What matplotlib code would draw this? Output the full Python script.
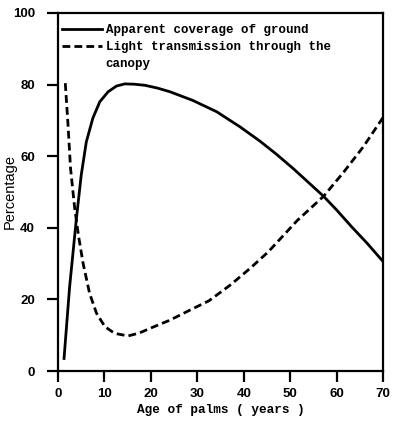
import matplotlib
matplotlib.use("Agg")
import matplotlib.pyplot as plt
from matplotlib.lines import Line2D

# Data
age_cov = [1.3, 2.5, 3.95, 5.0, 6.1, 7.5, 9.0, 10.8, 12.6, 14.4, 16.5, 18.75, 21.5, 24.1,
           29.0, 34.2, 39.2, 43.5, 47.0, 50.7, 54.0, 57.2, 60.0, 63.3, 66.5, 70.0]
coverage = [3.5, 23.5, 42.4, 54.7, 64.0, 70.6, 75.2, 78.0, 79.6, 80.2, 80.1, 79.8, 79.0, 78.0,
            75.6, 72.4, 68.2, 64.2, 60.6, 56.5, 52.6, 48.8, 45.0, 40.2, 35.8, 30.6]

age_light = [1.57, 2.16, 2.7, 3.6, 4.45, 5.4, 6.8, 8.3, 10.1, 12.2, 15.1, 17.5, 19.8, 24.1,
             28.4, 32.5, 37.1, 41.4, 45.3, 51.5, 57.2, 61.5, 65.8, 70.0]
light = [80.4, 68.7, 56.6, 45.4, 37.5, 30.1, 21.7, 16.1, 12.4, 10.5, 9.8, 10.6, 11.9, 14.2,
         17.0, 19.6, 24.0, 28.7, 33.3, 42.0, 48.8, 55.5, 62.7, 70.8]

xticks = [0, 10, 20, 30, 40, 50, 60, 70]
yticks = [0, 20, 40, 60, 80, 100]
labels = ["Apparent coverage of ground", "Light transmission through the", "canopy"]

mono = "Liberation Mono"
sans = "Liberation Sans"

fig = plt.figure(figsize=(4.0, 4.3), dpi=100)
ax = fig.add_axes([0.145, 0.1372, 0.8125, 0.8326])

l1, = ax.plot(age_cov, coverage, color="black", lw=2.0, solid_joinstyle="round")
l2, = ax.plot(age_light, light, color="black", lw=2.0, dashes=(2.8, 1.5))
blank = Line2D([], [], color="none")

ax.set_xlim(0, 70)
ax.set_ylim(0, 100)
ax.set_xticks(xticks)
ax.set_yticks(yticks)
ax.set_xticklabels([str(v) for v in xticks], fontfamily=sans, fontweight="bold", fontsize=9.5)
ax.set_yticklabels([str(v) for v in yticks], fontfamily=sans, fontweight="bold", fontsize=9.5)
ax.tick_params(axis="both", direction="out", length=8, width=1.6, color="black")
ax.tick_params(axis="x", pad=4)
ax.tick_params(axis="y", pad=8.6)
for s in ax.spines.values():
    s.set_linewidth(1.6)

ax.set_xlabel("Age of palms ( years )", fontfamily=mono, fontweight="bold", fontsize=9.2, labelpad=3)
ax.set_ylabel("Percentage", fontfamily=sans, fontsize=10.5)
ax.yaxis.set_label_coords(-0.128, 0.5)

leg = ax.legend([l1, l2, blank], labels, loc="upper left", bbox_to_anchor=(0.012, 0.968),
                frameon=False, prop={"family": mono, "weight": "bold", "size": 9.0},
                handlelength=3.2, handletextpad=0.3, borderaxespad=0.0, labelspacing=0.38,
                borderpad=0.0)

fig.savefig("out.png", dpi=100)
